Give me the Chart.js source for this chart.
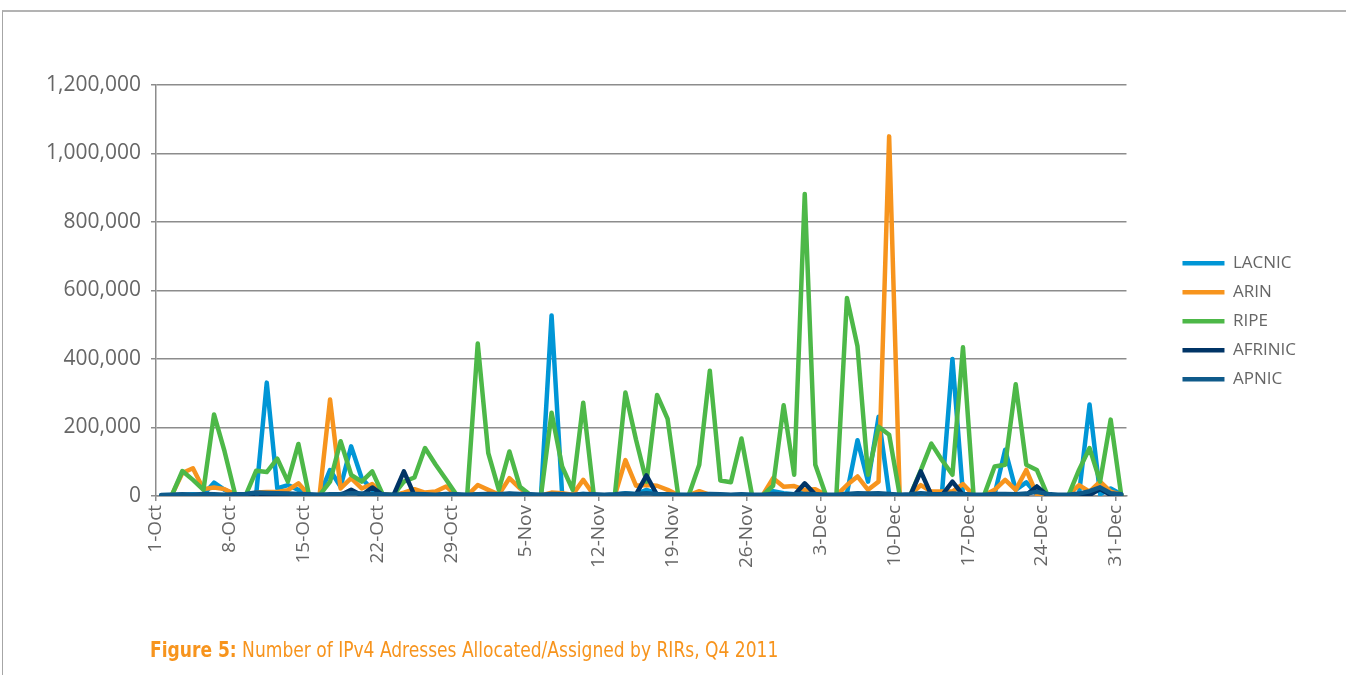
<!DOCTYPE html>
<html>
<head>
<meta charset="utf-8">
<script src="https://cdn.jsdelivr.net/npm/chart.js@4.4.0/dist/chart.umd.min.js"></script>
<style>
  html, body { margin: 0; padding: 0; background: #fff; }
  body { width: 1346px; height: 675px; position: relative; overflow: hidden; }
  #frame { position: absolute; left: 2px; top: 10px; right: 0; bottom: -5px;
           border-top: 2px solid #b3b3b3; border-left: 1px solid #a6a6a6; }
  #wrap { position: absolute; left: 0; top: 0; width: 1346px; height: 675px; }
  #caption { position: absolute; left: 150px; top: 638px; font-size: 21px; color: #f7941d;
             font-family: "DejaVu Sans Condensed", sans-serif; white-space: nowrap;
             transform: scaleX(0.905); transform-origin: 0 0; }
  #caption b { font-weight: bold; }
</style>
</head>
<body>
<div id="frame"></div>
<div id="wrap"><canvas id="myChart" width="1346" height="675"></canvas></div>
<div id="caption"><b>Figure 5:</b> Number of IPv4 Adresses Allocated/Assigned by RIRs, Q4 2011</div>
<script>
  // one value per day, 1-Oct .. 31-Dec 2011 (92 days)
  const tickLabels = ['1-Oct', '8-Oct', '15-Oct', '22-Oct', '29-Oct', '5-Nov', '12-Nov',
    '19-Nov', '26-Nov', '3-Dec', '10-Dec', '17-Dec', '24-Dec', '31-Dec'];

  const lacnic = [2000, 3000, 4000, 5000, 4000, 39000, 18000, 4000, 3000, 5000,
    331000, 22000, 32000, 18000, 3000, 2000, 76000, 27000, 145000, 52000,
    18000, 4000, 2000, 3000, 4000, 3000, 5000, 4000, 2000, 3000,
    5000, 4000, 3000, 6000, 4000, 2000, 3000, 527000, 5000, 4000,
    6000, 3000, 2000, 4000, 8000, 5000, 18000, 6000, 4000, 3000,
    2000, 4000, 3000, 3000, 2000, 3000, 2000, 3000, 14000, 8000,
    5000, 12000, 6000, 3000, 2000, 8000, 163000, 42000, 231000, 5000,
    2000, 3000, 6000, 4000, 5000, 400000, 5000, 3000, 2000, 5000,
    135000, 18000, 40000, 5000, 3000, 2000, 3000, 5000, 267000, 5000,
    22000, 5000];

  const arin = [0, 3000, 67000, 81000, 20000, 25000, 20000, 5000, 2000, 10000,
    12000, 12000, 17000, 37000, 2000, 0, 282000, 22000, 52000, 22000,
    35000, 5000, 2000, 10000, 20000, 10000, 13000, 28000, 2000, 1000,
    32000, 18000, 4000, 52000, 22000, 2000, 2000, 10000, 8000, 4000,
    47000, 3000, 1000, 2000, 105000, 30000, 32000, 30000, 18000, 3000,
    2000, 14000, 3000, 2000, 2000, 2000, 1000, 2000, 52000, 27000,
    29000, 18000, 20000, 3000, 2000, 32000, 57000, 18000, 42000, 1050000,
    2000, 3000, 32000, 13000, 13000, 13000, 35000, 3000, 2000, 18000,
    47000, 18000, 76000, 4000, 2000, 2000, 3000, 32000, 13000, 42000,
    13000, 4000];

  const ripe = [0, 2000, 73000, 47000, 18000, 238000, 130000, 5000, 2000, 74000,
    70000, 109000, 42000, 152000, 3000, 2000, 42000, 160000, 62000, 42000,
    72000, 4000, 3000, 42000, 54000, 140000, 92000, 48000, 3000, 2000,
    445000, 125000, 18000, 130000, 27000, 3000, 2000, 243000, 86000, 18000,
    272000, 3000, 2000, 3000, 302000, 165000, 42000, 295000, 225000, 3000,
    2000, 91000, 366000, 45000, 40000, 168000, 3000, 2000, 30000, 265000,
    62000, 882000, 91000, 3000, 2000, 578000, 437000, 62000, 202000, 179000,
    3000, 2000, 75000, 153000, 105000, 62000, 434000, 3000, 2000, 86000,
    91000, 326000, 91000, 76000, 3000, 2000, 2000, 76000, 140000, 42000,
    223000, 3000];

  const afrinic = [1000, 1000, 2000, 1000, 2000, 1000, 1000, 2000, 1000, 8000,
    4000, 2000, 1000, 2000, 1000, 1000, 2000, 3000, 18000, 2000,
    25000, 3000, 1000, 72000, 2000, 1000, 2000, 1000, 1000, 1000,
    2000, 1000, 1000, 2000, 1000, 1000, 1000, 2000, 1000, 1000,
    2000, 1000, 1000, 1000, 2000, 4000, 60000, 3000, 2000, 1000,
    1000, 1000, 2000, 1000, 1000, 1000, 1000, 1000, 3000, 2000,
    2000, 37000, 4000, 1000, 1000, 2000, 3000, 2000, 3000, 2000,
    1000, 1000, 72000, 3000, 2000, 42000, 3000, 1000, 1000, 2000,
    3000, 2000, 3000, 28000, 2000, 1000, 1000, 2000, 3000, 20000,
    3000, 2000];

  const apnic = [3000, 4000, 5000, 4000, 6000, 5000, 4000, 5000, 6000, 10000,
    9000, 8000, 7000, 6000, 5000, 4000, 5000, 6000, 8000, 7000,
    6000, 5000, 4000, 5000, 6000, 5000, 4000, 6000, 5000, 4000,
    5000, 6000, 5000, 7000, 6000, 5000, 4000, 6000, 5000, 4000,
    6000, 5000, 4000, 5000, 7000, 6000, 8000, 6000, 5000, 4000,
    4000, 5000, 6000, 5000, 4000, 5000, 4000, 4000, 6000, 5000,
    5000, 6000, 5000, 4000, 4000, 6000, 8000, 7000, 8000, 6000,
    4000, 5000, 8000, 6000, 5000, 7000, 6000, 4000, 4000, 6000,
    6000, 5000, 7000, 12000, 6000, 4000, 4000, 7000, 14000, 25000,
    8000, 5000];

  const seriesNames = ['LACNIC', 'ARIN', 'RIPE', 'AFRINIC', 'APNIC'];
  const seriesColors = ['#0096d6', '#f7941d', '#4db848', '#003466', '#0f5a8a'];
  const seriesValues = [lacnic, arin, ripe, afrinic, apnic];

  const tickColor = '#666666';
  const gridColor = '#8c8c8c';

  const datasets = seriesNames.map((name, k) => ({
    label: name,
    data: seriesValues[k].map((v, i) => ({ x: i, y: v })),
    borderColor: seriesColors[k],
    backgroundColor: seriesColors[k],
    borderWidth: 4.5,
    borderCapStyle: 'round',
    borderJoinStyle: 'round',
    pointRadius: 0,
    tension: 0,
    order: 5 - k   // later series drawn on top, as in the original
  }));

  const config = {
    type: 'line',
    data: { datasets: datasets },
    options: {
      responsive: false,
      animation: false,
      layout: { padding: { left: 0, top: 85, right: 40, bottom: 0 } },
      plugins: {
        tooltip: { enabled: false },
        legend: {
          position: 'right',
          fullSize: false,
          // empty title only pushes the items down to the original height
          title: { display: true, text: '', padding: { top: 0, bottom: 41 }, font: { size: 17 } },
          labels: {
            usePointStyle: true,
            pointStyle: 'line',
            pointStyleWidth: 42,
            padding: 12,
            color: '#666666',
            font: { family: 'Open Sans', size: 17 },
            sort: (a, b) => a.datasetIndex - b.datasetIndex
          }
        }
      },
      scales: {
        x: {
          type: 'linear',
          min: -0.5,
          max: 91.5,
          afterBuildTicks: (s) => { s.ticks = tickLabels.map((t, k) => ({ value: k * 7 - 0.5 })); },
          afterFit: (s) => { s.height = 179; },
          grid: { drawOnChartArea: false, drawTicks: true, tickLength: 5, color: gridColor, lineWidth: 1.5 },
          border: { color: gridColor, width: 1.5 },
          ticks: {
            autoSkip: false,
            maxRotation: 90,
            minRotation: 90,
            padding: 4,
            color: tickColor,
            font: { family: 'Open Sans', size: 19 },
            callback: (v, idx) => tickLabels[idx]
          }
        },
        y: {
          min: 0,
          max: 1200000,
          afterFit: (s) => { s.width = 156; },
          grid: { color: gridColor, lineWidth: 1.5, tickLength: 5 },
          border: { color: gridColor, width: 1.5 },
          ticks: {
            stepSize: 200000,
            padding: 10,
            color: tickColor,
            font: { family: 'Open Sans', size: 21 },
            callback: (v) => v.toLocaleString('en-US')
          }
        },
        gap: {
          position: 'right',
          grid: { display: false, drawTicks: false },
          border: { display: false },
          ticks: { display: false },
          afterFit: (s) => { s.width = 44; }
        }
      }
    }
  };

  const myChart = new Chart(document.getElementById('myChart'), config);
</script>
</body>
</html>
